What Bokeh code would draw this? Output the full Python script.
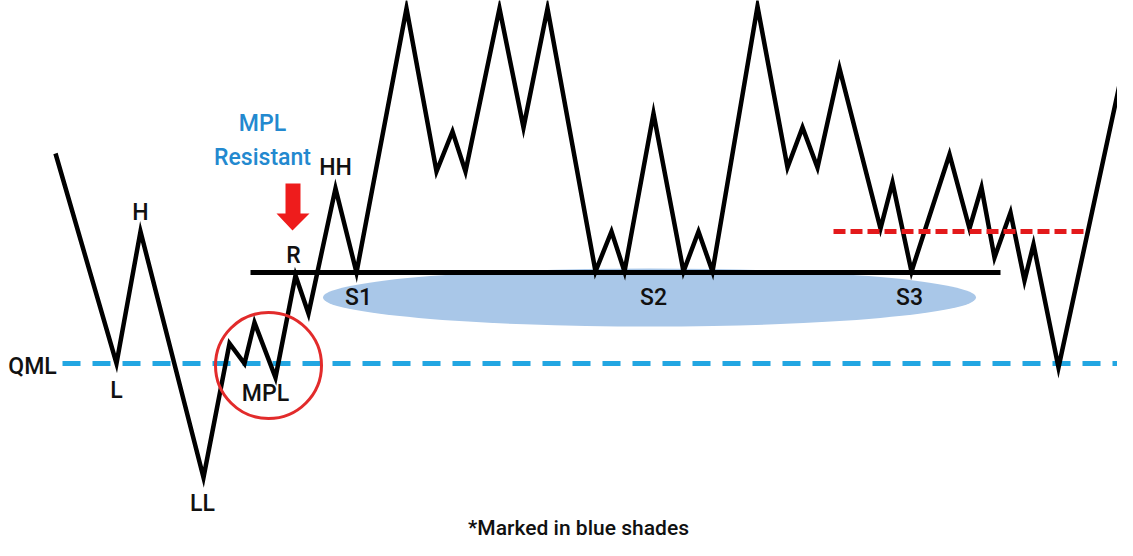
from bokeh.plotting import figure
from bokeh.models import Range1d
from bokeh.core.properties import value
from bokeh.embed import file_html
from bokeh.resources import INLINE

# ---- data (time position, price level) ----
price_t = [55, 116, 140, 203, 229, 244, 254, 275, 295, 308, 335, 356, 406, 436, 452, 465,
           499, 523, 547, 595, 611, 624, 653, 683, 698, 712, 757, 787, 802, 817, 839, 880,
           892, 911, 949, 969, 981, 994, 1010, 1024, 1033, 1058, 1140]
price_v = [403, 193, 325, 79, 213, 193, 234, 179, 281, 243, 368, 284, 548, 385, 425, 385,
           548, 429, 548, 285, 325, 285, 443, 285, 325, 285, 550, 389, 429, 389, 488, 328,
           374, 285, 402, 328, 369, 299, 344, 276, 312, 189, 569]

support_t = [250, 1000]
support_level = 284
qml_t = [62, 1140]
qml_level = 193
resist_t = [833, 1085]
resist_level = 325

zone_center = (649, 259)
zone_size = (653, 58)
mpl_circle = (268, 191, 53)
arrow_x = [285, 300, 300, 309, 292, 276, 285]
arrow_y = [373, 373, 343, 343, 326, 343, 343]

label_text = ["H", "L", "LL", "QML", "MPL", "R", "HH", "S1", "S2", "S3"]
label_t = [140, 116, 202, 32, 265, 293, 335, 358, 653, 909]
label_v = [344, 166, 53, 190, 163, 301, 389, 259, 259, 259]

title_text = ["MPL", "Resistant"]
title_t = [262, 262]
title_v = [433, 399]

note_text = "*Marked in blue shades"
note_pos = (578, 29)

FONT = "Roboto Medium, Roboto"

p = figure(width=1117, height=540, output_backend="svg", toolbar_location=None,
           x_range=Range1d(0, 1117), y_range=Range1d(16, 556), min_border=0)
p.axis.visible = False
p.grid.visible = False
p.outline_line_color = None
p.background_fill_color = "white"
p.border_fill_color = "white"

# blue shaded support zone
p.ellipse(x=[zone_center[0]], y=[zone_center[1]], width=[zone_size[0]], height=[zone_size[1]],
          fill_color="#a9c7e8", line_color=None)

# support line
p.line(support_t, [support_level] * 2, line_color="black", line_width=5)

# QML line
p.line(qml_t, [qml_level] * 2, line_color="#22a6e2", line_width=5, line_dash="18 12")

# price zigzag
p.line(price_t, price_v, line_color="black", line_width=4.5, line_join="miter")

# resistance red dashed
p.line(resist_t, [resist_level] * 2, line_color="#e3191b", line_width=5, line_dash="12 5")

# MPL circle
p.circle(x=[mpl_circle[0]], y=[mpl_circle[1]], radius=mpl_circle[2], fill_color=None,
         line_color="#e22b2b", line_width=3)

# red arrow
p.patch(arrow_x, arrow_y, fill_color="#ee1c1c", line_color=None)

# labels
p.text(x=label_t, y=label_v, text=label_text, text_font=value(FONT), text_font_size="23px",
       text_color="#111111", text_align="center", text_baseline="middle")
p.text(x=title_t, y=title_v, text=title_text, text_font=value(FONT), text_font_size="23px",
       text_color="#2389cf", text_align="center", text_baseline="middle")
p.text(x=[note_pos[0]], y=[note_pos[1]], text=[note_text], text_font=value(FONT),
       text_font_size="21px", text_color="#111111",
       text_align="center", text_baseline="middle")

open("out.html", "w").write(file_html(p, INLINE))
